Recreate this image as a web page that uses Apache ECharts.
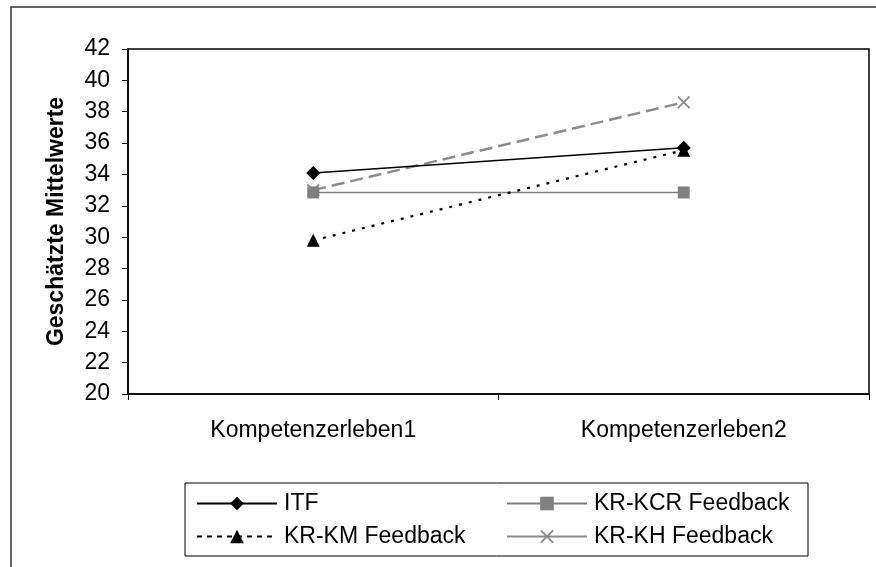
<!DOCTYPE html>
<html>
<head>
<meta charset="utf-8">
<script src="https://cdn.jsdelivr.net/npm/echarts@6/dist/echarts.min.js"></script>
<style>html,body{margin:0;padding:0;background:#fff;}#c{width:876px;height:567px;}</style>
</head>
<body>
<div id="c"></div>
<script>
const categories = ['Kompetenzerleben1', 'Kompetenzerleben2'];
const itf = [34.1, 35.7];
const krKcr = [32.85, 32.85];
const krKm = [29.8, 35.55];
const krKh = [33.0, 38.6];
const yMin = 20, yMax = 42, yStep = 2;

const xPath = 'path://M0,1L1,0L5,4L9,0L10,1L6,5L10,9L9,10L5,6L1,10L0,9L4,5Z';
const font = 'Liberation Sans, Arial, sans-serif';
const fs = 23;
const chart = echarts.init(document.getElementById('c'));

function leg(name, left, top, lineType) {
  const d = { name: name };
  if (lineType) d.lineStyle = { type: lineType };
  return {
    data: [d], left: left, top: top, itemWidth: 80, itemHeight: 17, padding: 0,
    textStyle: { fontFamily: font, fontSize: fs, color: '#000', padding: [0, 0, 0, 2] }, selectedMode: false
  };
}

chart.setOption({
  animation: false,
  backgroundColor: '#fff',
  textStyle: { fontFamily: font },
  grid: { left: 128, top: 49, right: 7, bottom: 173, show: true, borderColor: '#000', borderWidth: 1.5, backgroundColor: 'transparent' },
  graphic: [
    { type: 'rect', shape: { x: 11, y: 7, width: 900, height: 600 }, style: { fill: 'none', stroke: '#333', lineWidth: 1.5 }, silent: true },
    { type: 'rect', shape: { x: 185, y: 483, width: 623, height: 73 }, style: { fill: 'none', stroke: '#000', lineWidth: 1 }, silent: true }
  ],
  legend: [
    leg('ITF', 196, 492),
    leg('KR-KCR Feedback', 506, 492),
    leg('KR-KM Feedback', 196, 525, [5, 5]),
    leg('KR-KH Feedback', 506, 525, 'solid')
  ],
  xAxis: {
    type: 'category', data: categories, boundaryGap: true,
    axisLine: { lineStyle: { color: '#000', width: 1.5 } },
    axisTick: { show: true, interval: 0, length: 6, lineStyle: { color: '#000' } },
    axisLabel: { fontFamily: font, fontSize: fs, color: '#000', margin: 25 },
    splitLine: { show: false }
  },
  yAxis: {
    type: 'value', min: yMin, max: yMax, interval: yStep,
    name: 'Geschätzte Mittelwerte', nameLocation: 'middle', nameGap: 60,
    nameTextStyle: { fontFamily: font, fontSize: fs, fontWeight: 'bold', color: '#000' },
    axisLine: { show: true, lineStyle: { color: '#000', width: 1.5 } },
    axisTick: { show: true, length: 6, lineStyle: { color: '#000' } },
    axisLabel: { fontFamily: font, fontSize: fs, color: '#000', margin: 18 },
    splitLine: { show: false }
  },
  series: [
    { name: 'ITF', type: 'line', data: itf, symbol: 'diamond', symbolSize: 14,
      lineStyle: { color: '#000', width: 1.5 }, itemStyle: { color: '#000' }, z: 5 },
    { name: 'KR-KCR Feedback', type: 'line', data: krKcr, symbol: 'rect', symbolSize: 12,
      lineStyle: { color: '#808080', width: 1.5 }, itemStyle: { color: '#808080' }, z: 3 },
    { name: 'KR-KM Feedback', type: 'line', data: krKm, symbol: 'triangle', symbolSize: 13,
      lineStyle: { color: '#000', width: 2.2, type: [3, 7] }, itemStyle: { color: '#000' }, z: 4 },
    { name: 'KR-KH Feedback', type: 'line', data: krKh, symbol: xPath, symbolSize: 13,
      lineStyle: { color: '#8c8c8c', width: 2.5, type: [13, 6] }, itemStyle: { color: '#8c8c8c' }, z: 2 }
  ]
});
</script>
</body>
</html>
